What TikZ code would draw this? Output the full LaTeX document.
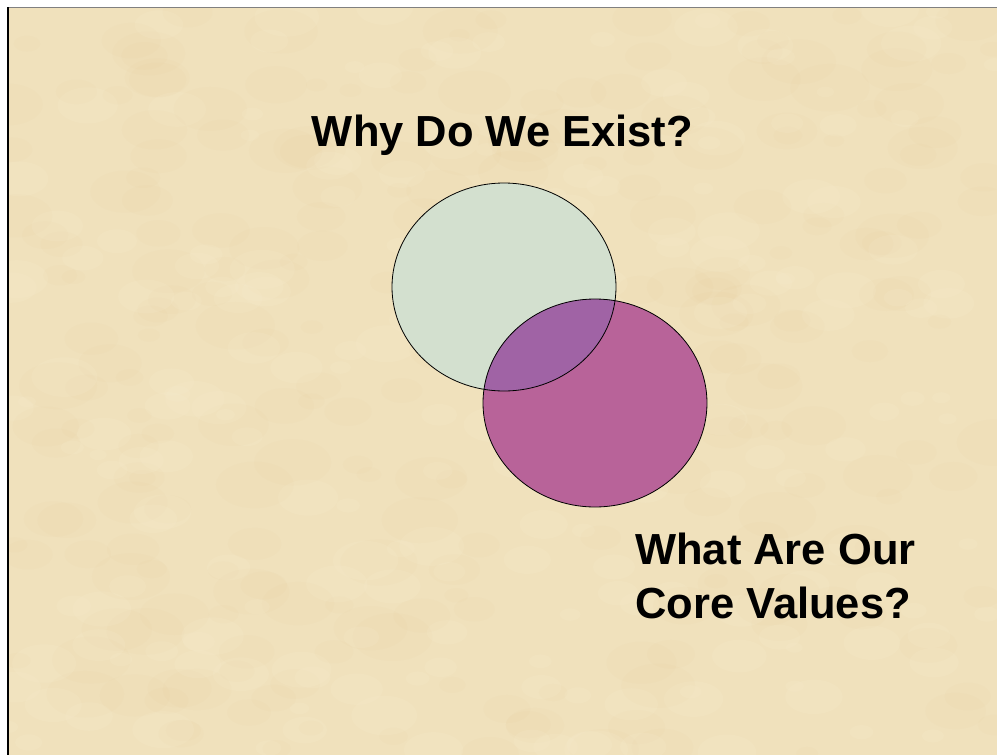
\documentclass[tikz,border=0pt]{standalone}
\usepackage{fontspec}
\setmainfont{Liberation Sans}
\definecolor{parchment}{RGB}{240,225,188}
\definecolor{tan}{RGB}{226,198,150}
\definecolor{cream}{RGB}{250,242,215}
\definecolor{sage}{RGB}{211,224,207}
\definecolor{orchid}{RGB}{184,99,153}
\definecolor{blend}{RGB}{160,99,165}
\begin{document}
\begin{tikzpicture}[x=1pt,y=-1pt,
  paper/.style={fill=parchment},
  ring/.style={draw=black,line width=0.8pt},
  heading/.style={font=\fontsize{43.5}{54}\selectfont\bfseries,text=black,inner sep=0pt}]
  \useasboundingbox (0,0) rectangle (997,755);
  \fill[white] (0,0) rectangle (997,755);
  % parchment sheet with a faint mottled grain
  \begin{scope}
    \clip (8,7) rectangle (997,755);
    \fill[paper] (8,7) rectangle (997,755);
    \pgfmathsetseed{7}
    \foreach \i in {1,...,260}{
      \pgfmathsetmacro{\px}{8+989*rnd}
      \pgfmathsetmacro{\py}{7+748*rnd}
      \pgfmathsetmacro{\pr}{10+30*rnd}
      \fill[tan,opacity=0.07] (\px,\py) ellipse [x radius=\pr, y radius=0.6*\pr];
    }
    \foreach \i in {1,...,220}{
      \pgfmathsetmacro{\px}{8+989*rnd}
      \pgfmathsetmacro{\py}{7+748*rnd}
      \pgfmathsetmacro{\pr}{8+25*rnd}
      \fill[cream,opacity=0.12] (\px,\py) ellipse [x radius=\pr, y radius=0.6*\pr];
    }
  \end{scope}
  % frame
  \draw[gray,line width=1pt] (8,7) -- (997,7);
  \draw[black,line width=1.2pt] (8,7) -- (8,755);
  % centres of the two circles
  \coordinate (purpose) at (504,287);
  \coordinate (values) at (595,403);
  % fills
  \fill[sage] (purpose) ellipse [x radius=112, y radius=104];
  \fill[orchid] (values) ellipse [x radius=112, y radius=104];
  \begin{scope}
    \clip (purpose) ellipse [x radius=112, y radius=104];
    \fill[blend] (values) ellipse [x radius=112, y radius=104];
  \end{scope}
  % outlines
  \draw[ring] (purpose) ellipse [x radius=112, y radius=104];
  \draw[ring] (values) ellipse [x radius=112, y radius=104];
  % headings
  \node[heading,anchor=base] (why) at (502.5,146) {Why Do We Exist?};
  \node[heading,anchor=base west,align=left] (core) at (635,618) {What Are Our\\Core Values?};
\end{tikzpicture}
\end{document}
